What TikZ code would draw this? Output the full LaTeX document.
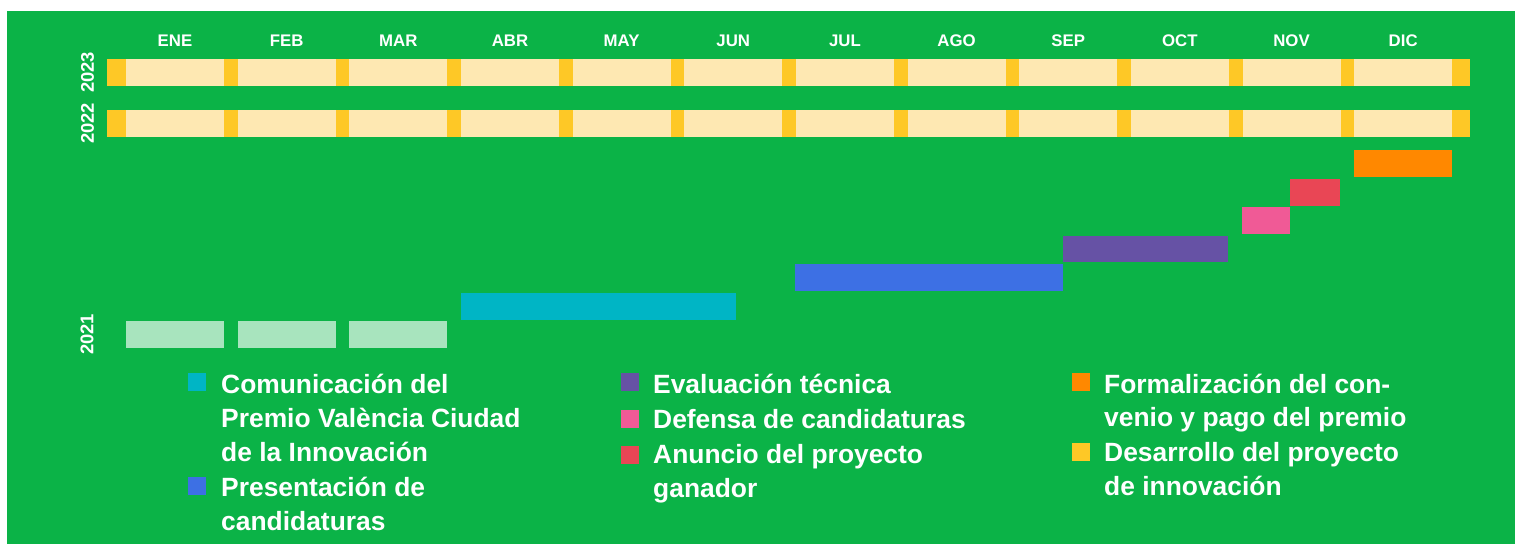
\documentclass[tikz,border=0pt]{standalone}
\usepackage{fontspec}
\setmainfont{Liberation Sans}
\definecolor{bggreen}{RGB}{11,179,71}
\definecolor{cream}{RGB}{254,232,178}
\definecolor{ambar}{RGB}{254,200,38}
\definecolor{lightgreen}{RGB}{168,228,190}
\definecolor{tealc}{RGB}{0,181,197}
\definecolor{bluec}{RGB}{61,112,228}
\definecolor{purplec}{RGB}{102,82,165}
\definecolor{pinkc}{RGB}{240,90,150}
\definecolor{redc}{RGB}{233,70,85}
\definecolor{orangec}{RGB}{255,136,0}
\tikzset{
  monthlbl/.style={text=white,font=\fontsize{16.8}{18}\selectfont\bfseries,inner sep=0pt,anchor=center},
  yearlbl/.style={text=white,font=\fontsize{18.4}{20}\selectfont\bfseries,inner sep=0pt,anchor=center,rotate=90},
  legendtxt/.style={text=white,font=\fontsize{26.4}{30}\selectfont\bfseries,inner sep=0pt,anchor=base west},
}
\begin{document}
\begin{tikzpicture}[x=1pt,y=-1pt]
\useasboundingbox (0,0) rectangle (1515,544);
\fill[white] (0,0) rectangle (1515,544);
\fill[bggreen] (7,11) rectangle (1515,544);
% yellow rows
\fill[ambar] (107,59) rectangle (1470,86);
\fill[ambar] (107,110) rectangle (1470,137);
\foreach \m [count=\i from 0] in {ENE,FEB,MAR,ABR,MAY,JUN,JUL,AGO,SEP,OCT,NOV,DIC}{
  \pgfmathsetmacro\xs{126+111.65*\i}
  \fill[cream] (\xs,59) rectangle ++(98,27);
  \fill[cream] (\xs,110) rectangle ++(98,27);
  \node[monthlbl] (m\i) at (\xs+49,40.7) {\m};
}
% 2021 light bars
\foreach \i in {0,1,2}{
  \pgfmathsetmacro\xs{126+111.65*\i}
  \fill[lightgreen] (\xs,321) rectangle ++(98,27);
}
% year labels
\node[yearlbl] (y23) at (87.5,72.5) {2023};
\node[yearlbl] (y22) at (87.5,123.5) {2022};
\node[yearlbl] (y21) at (87,334.5) {2021};
% phase bars
\fill[tealc] (461,293) rectangle (736,320);
\fill[bluec] (795,264) rectangle (1063,291);
\fill[purplec] (1063,236) rectangle (1228,262);
\fill[pinkc] (1242,207) rectangle (1290,234);
\fill[redc] (1290,179) rectangle (1340,206);
\fill[orangec] (1354,150) rectangle (1452,177);
% legend column 1
\fill[tealc] (188,373) rectangle ++(18,18);
\node[legendtxt] (a1) at (221,393) {Comunicación del};
\node[legendtxt] (a2) at (221,427.3) {Premio València Ciudad};
\node[legendtxt] (a3) at (221,461.6) {de la Innovación};
\fill[bluec] (188,476.5) rectangle ++(18,18);
\node[legendtxt] (a4) at (221,496) {Presentación de};
\node[legendtxt] (a5) at (221,530.3) {candidaturas};
% legend column 2
\fill[purplec] (621,373) rectangle ++(18,18);
\node[legendtxt] (b1) at (653,393) {Evaluación técnica};
\fill[pinkc] (621,409.5) rectangle ++(18,18);
\node[legendtxt] (b2) at (653,428.3) {Defensa de candidaturas};
\fill[redc] (621,445.5) rectangle ++(18,18);
\node[legendtxt] (b3) at (653,463.3) {Anuncio del proyecto};
\node[legendtxt] (b4) at (653,497.8) {ganador};
% legend column 3
\fill[orangec] (1072,373) rectangle ++(18,18);
\node[legendtxt] (c1) at (1104,393) {Formalización del con-};
\node[legendtxt] (c2) at (1104,426.5) {venio y pago del premio};
\fill[ambar] (1072,443) rectangle ++(18,18);
\node[legendtxt] (c3) at (1104,461.5) {Desarrollo del proyecto};
\node[legendtxt] (c4) at (1104,495.5) {de innovación};
\end{tikzpicture}
\end{document}
